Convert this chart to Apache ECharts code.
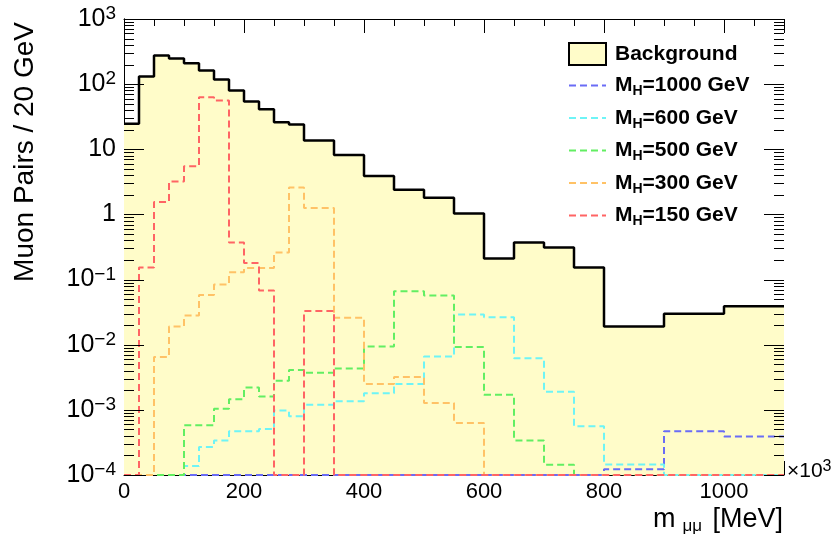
<!DOCTYPE html>
<html><head><meta charset="utf-8">
<script src="https://cdn.jsdelivr.net/npm/echarts@6/dist/echarts.min.js"></script>
<style>html,body{margin:0;padding:0;background:#fff}#c{width:838px;height:546px}</style>
</head><body><div id="c"></div>
<script>
// ---- data (bin edges in MeV, x10^3 on axis) ----
const binEdges = [0,25,50,75,100,125,150,175,200,225,250,275,300,350,400,450,500,550,600,650,700,750,800,900,1000,1100];
const background = [24.7,131,276,248,210,162,118,80,54,41,26,24,13.7,8.2,3.9,2.4,1.8,1.03,0.21,0.37,0.31,0.153,0.019,0.030,0.039];
const mh1000 = [0,0,0,0,0,0,0,0,0,0,0,0,0,0,0,0,0,0,0,0,0,0,0.000123,0.00047,0.00039];
const mh600  = [0,0,0,0,0.000137,0.00027,0.00034,0.00047,0.00047,0.00051,0.00098,0.0008,0.0012,0.00136,0.0018,0.0025,0.0066,0.029,0.0265,0.0062,0.0019,0.00056,0.000145,0,0];
const mh500  = [0,0,0,0,0.00058,0.00058,0.00104,0.00145,0.0022,0.0016,0.0028,0.0041,0.0037,0.0043,0.0094,0.066,0.057,0.0092,0.0017,0.00034,0.000144,0,0,0,0];
const mh300  = [0,0,0.0065,0.019,0.028,0.058,0.084,0.13,0.15,0.15,0.26,2.6,1.25,0.026,0.0025,0.0032,0.00127,0.00063,0,0,0,0,0,0,0];
const mh150  = [0,0.153,1.55,3.2,5.5,63,56,0.37,0.18,0.068,0,0,0.033,0,0,0,0,0,0,0,0,0,0,0,0];
const seriesNames = ['Background','M_H=1000 GeV','M_H=600 GeV','M_H=500 GeV','M_H=300 GeV','M_H=150 GeV'];
const signalValues = [mh1000, mh600, mh500, mh300, mh150];
const signalColors = ['#6a6cf6','#6ef4f6','#62ee62','#ffc266','#ff6464'];
const xTitle = ['m', 'μμ', ' [MeV]'];
const yTitle = 'Muon Pairs / 20 GeV';
const xMultiplier = ['×10', '3'];
const yDecades = [-4,-3,-2,-1,0,1,2,3];          // decade exponents of the log axis
const yTickMantissas = [1,2,3,4,5,6,7,8,9];      // 1 = major tick, 2..9 = minor ticks

const Y_MIN = 1e-4, Y_MAX = 1e3, X_MIN = 0, X_MAX = 1100;
const FONT = "'Liberation Sans', Arial, Helvetica, sans-serif";
const FILL = '#fffcc9';

function stepData(vals) {
  const pts = vals.map((v, i) => [binEdges[i], Math.max(v, Y_MIN)]);
  pts.push([binEdges[binEdges.length - 1], Math.max(vals[vals.length - 1], Y_MIN)]);
  return pts;
}

const chart = echarts.init(document.getElementById('c'), null, {renderer: 'canvas'});

const series = [{
  name: seriesNames[0], type: 'line', step: 'end', symbol: 'none',
  data: stepData(background),
  lineStyle: {color: '#000', width: 2.5},
  itemStyle: {color: '#000'},
  areaStyle: {color: FILL, opacity: 1, origin: 'start'},
  z: 2
}];
signalValues.forEach((vals, k) => {
  series.push({
    name: seriesNames[k + 1], type: 'line', step: 'end', symbol: 'none',
    data: stepData(vals),
    lineStyle: {color: signalColors[k], width: 2, type: [7, 4]},
    itemStyle: {color: signalColors[k]},
    z: 3 + k
  });
});

// ROOT-style log-axis ticks (major at 10^n, minor at 2..9 x 10^n) on the left and right frame,
// vertical position from the y axis scale, horizontal position from the grid rectangle
const yTickValues = [];
yDecades.forEach(e => yTickMantissas.forEach(m => {
  const v = m * Math.pow(10, e);
  if (v >= Y_MIN && v <= Y_MAX) yTickValues.push([X_MAX / 2, v, m === 1 ? 1 : 0]);
}));
series.push({
  type: 'custom', silent: true, clip: false, z: 20,
  coordinateSystem: 'cartesian2d', xAxisIndex: 0, yAxisIndex: 0,
  data: yTickValues,
  renderItem: function (params, api) {
    const v = api.value(1);
    const len = api.value(2) === 1 ? 20 : 10;
    const cs = params.coordSys;
    const y = Math.round(api.coord([X_MAX / 2, v])[1]) + 0.5;
    const xl = cs.x, xr = cs.x + cs.width;
    return {type: 'group', children: [
      {type: 'line', shape: {x1: xl, y1: y, x2: xl + len, y2: y}, style: {stroke: '#000', lineWidth: 1}},
      {type: 'line', shape: {x1: xr - len, y1: y, x2: xr, y2: y}, style: {stroke: '#000', lineWidth: 1}}
    ]};
  }
});

const axisCommonX = {
  type: 'value', min: X_MIN, max: X_MAX, interval: 200,
  axisLine: {show: true, lineStyle: {color: '#000', width: 1}},
  axisTick: {show: true, inside: true, length: 14, lineStyle: {color: '#000', width: 1}},
  minorTick: {show: true, splitNumber: 4, length: 7, lineStyle: {color: '#000', width: 1}},
  splitLine: {show: false}, minorSplitLine: {show: false}
};
const axisCommonY = {
  type: 'log', logBase: 10, min: Y_MIN, max: Y_MAX, interval: 1,
  axisLine: {show: true, lineStyle: {color: '#000', width: 1}},
  axisTick: {show: false},
  minorTick: {show: false},
  splitLine: {show: false}, minorSplitLine: {show: false}
};

function legendLabel(name) {
  if (name.indexOf('M_H') === 0) return '{b|M}{s|H}{b|' + name.slice(3) + '}';
  return '{b|' + name + '}';
}

chart.setOption({
  animation: false,
  backgroundColor: '#fff',
  grid: {left: 124, right: 54, top: 19, bottom: 71, containLabel: false},
  xAxis: [
    Object.assign({}, axisCommonX, {
      position: 'bottom',
      axisLabel: {show: true, margin: 6, fontSize: 22, fontFamily: FONT, color: '#000', showMaxLabel: false,
        formatter: function (v) { return String(v); }}
    }),
    Object.assign({}, axisCommonX, {position: 'top', axisLabel: {show: false}})
  ],
  yAxis: [
    Object.assign({}, axisCommonY, {
      position: 'left',
      axisLabel: {
        show: true, margin: 8, padding: [0, 0, 4, 0],
        formatter: function (v) {
          const e = Math.round(Math.log10(v));
          if (e === 0) return '{b|1}';
          if (e === 1) return '{b|10}';
          return '{b|10}{p|' + (e < 0 ? '\u2212' + (-e) : e) + '}';
        },
        rich: {
          b: {fontSize: 25, fontFamily: FONT, color: '#000', lineHeight: 25, padding: [4, 0, 0, 0]},
          p: {fontSize: 19, fontFamily: FONT, color: '#000', lineHeight: 19, verticalAlign: 'top'}
        }
      }
    }),
    Object.assign({}, axisCommonY, {position: 'right', axisLabel: {show: false}})
  ],
  legend: {
    show: true, orient: 'vertical', left: 568, top: 42, padding: 0,
    itemWidth: 37, itemHeight: 22, itemGap: 9,
    data: seriesNames.map((n, i) => i === 0
      ? {name: n, icon: 'rect', itemStyle: {color: FILL, borderColor: '#000', borderWidth: 2}}
      : {name: n, itemStyle: {opacity: 0}}),
    formatter: legendLabel,
    textStyle: {
      color: '#000', padding: [0, 0, 0, 4],
      rich: {
        b: {fontSize: 21, fontWeight: 'bold', fontFamily: FONT, color: '#000', lineHeight: 26},
        s: {fontSize: 14, fontWeight: 'bold', fontFamily: FONT, color: '#000', lineHeight: 14, verticalAlign: 'bottom'}
      }
    }
  },
  graphic: [
    {type: 'text', x: 25, y: 22, rotation: Math.PI / 2, silent: true,
     style: {text: yTitle, fontSize: 28, fontFamily: FONT, fill: '#000', align: 'right', verticalAlign: 'middle'}},
    {type: 'text', x: 783, y: 520, silent: true,
     style: {text: '{a|' + xTitle[0] + '}{s|' + xTitle[1] + '}{a|' + xTitle[2] + '}', align: 'right', verticalAlign: 'middle',
       rich: {
         a: {fontSize: 27, fontFamily: FONT, fill: '#000', color: '#000', lineHeight: 30},
         s: {fontSize: 17, fontFamily: FONT, fill: '#000', color: '#000', lineHeight: 17, verticalAlign: 'bottom', padding: [0, 3, 0, 7]}
       }}},
    {type: 'text', x: 787, y: 469, silent: true,
     style: {text: '{a|' + xMultiplier[0] + '}{s|' + xMultiplier[1] + '}', align: 'left', verticalAlign: 'middle',
       rich: {
         a: {fontSize: 21, fontFamily: FONT, fill: '#000', color: '#000', lineHeight: 21, padding: [4, 0, 0, 0]},
         s: {fontSize: 16, fontFamily: FONT, fill: '#000', color: '#000', lineHeight: 16, verticalAlign: 'top'}
       }}}
  ],
  series: series
});
</script>
</body></html>
